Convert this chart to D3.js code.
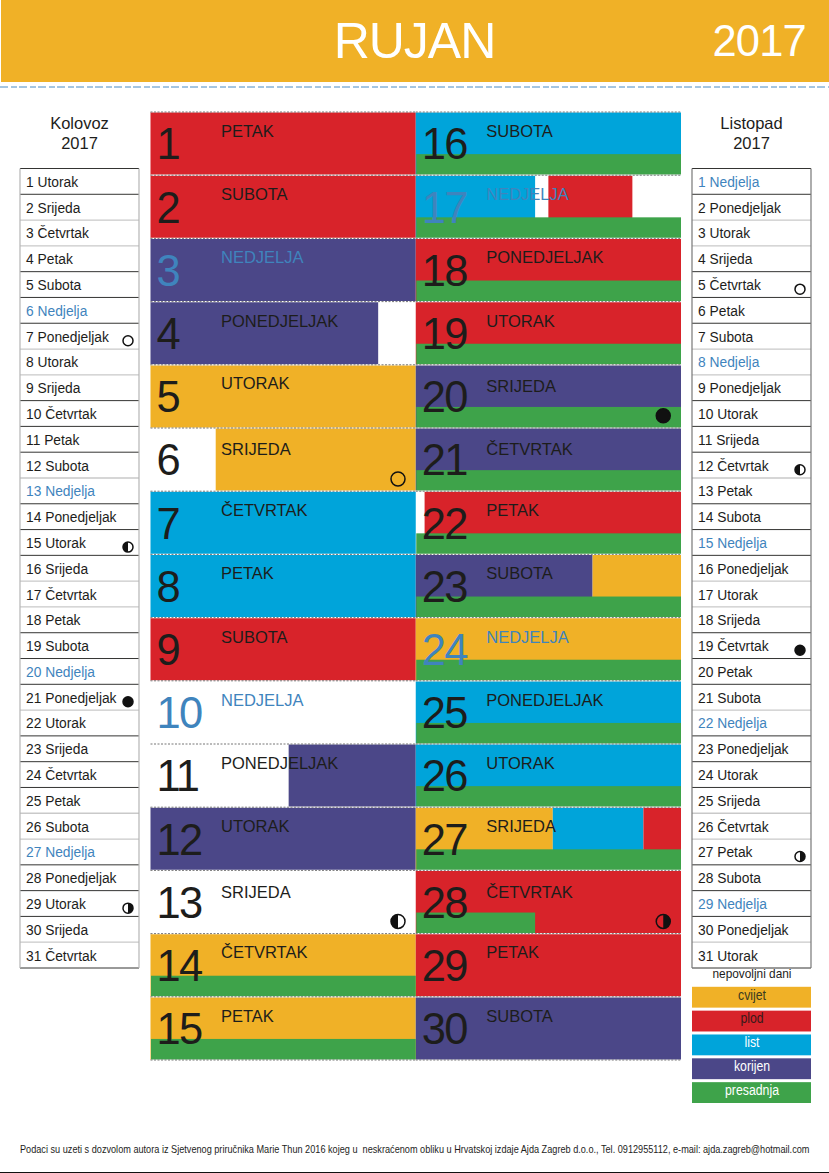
<!DOCTYPE html>
<html><head><meta charset="utf-8">
<script src="https://d3js.org/d3.v7.min.js"></script>
<style>html,body{margin:0;padding:0;background:#fff}svg{display:block}text{font-family:"Liberation Sans",Arial,sans-serif}</style>
</head><body><div id="c"></div>
<script>
const monthTitle = "RUJAN", yearTitle = "2017";
const dayNumbers = [1,2,3,4,5,6,7,8,9,10,11,12,13,14,15,16,17,18,19,20,21,22,23,24,25,26,27,28,29,30];
const dayNames = ["PETAK","SUBOTA","NEDJELJA","PONEDJELJAK","UTORAK","SRIJEDA","ČETVRTAK","PETAK","SUBOTA","NEDJELJA","PONEDJELJAK","UTORAK","SRIJEDA","ČETVRTAK","PETAK","SUBOTA","NEDJELJA","PONEDJELJAK","UTORAK","SRIJEDA","ČETVRTAK","PETAK","SUBOTA","NEDJELJA","PONEDJELJAK","UTORAK","SRIJEDA","ČETVRTAK","PETAK","SUBOTA"];
const segDay =   [1,2,3,4,5,6,7,8,9,11,12,14,15,16,17,17,18,19,20,21,22,23,23,24,25,26,27,27,27,28,29,30];
const segStart = [0,0,0,0,0,5.9,0,0,0,12.5,0,0,0,0,0,12,0,0,0,0,0.8,0,16,0,0,0,0,12.4,20.6,0,0,0];
const segEnd =   [24,24,24,20.6,24,24,24,24,24,24,24,24,24,24,10.8,19.6,24,24,24,24,24,16,24,24,24,24,12.4,20.6,24,24,24,24];
const segType =  ["plod","plod","korijen","korijen","cvijet","cvijet","list","list","plod","korijen","korijen","cvijet","cvijet","list","list","plod","plod","plod","korijen","korijen","plod","korijen","cvijet","cvijet","list","list","cvijet","list","plod","plod","plod","korijen"];
const bandDay =  [14,15,16,17,18,19,20,21,22,23,24,25,26,27,28];
const bandEnd =  [24,24,24,24,24,24,24,24,24,24,24,24,24,24,10.8];
const moonDay = [6,13,20,28];
const moonKind = ["new","half-l","full","half-r"];
const legendLabels = ["cvijet","plod","list","korijen","presadnja"];
const legendColors = ["#f0b127","#d8232a","#00a4da","#4b4788","#3ea34a"];
const legendText = ["#3a3a20","#3a1a1a","#ffffff","#ffffff","#ffffff"];
const augTitle = ["Kolovoz","2017"], octTitle = ["Listopad","2017"];
const augDays = ["1 Utorak","2 Srijeda","3 Četvrtak","4 Petak","5 Subota","6 Nedjelja","7 Ponedjeljak","8 Utorak","9 Srijeda","10 Četvrtak","11 Petak","12 Subota","13 Nedjelja","14 Ponedjeljak","15 Utorak","16 Srijeda","17 Četvrtak","18 Petak","19 Subota","20 Nedjelja","21 Ponedjeljak","22 Utorak","23 Srijeda","24 Četvrtak","25 Petak","26 Subota","27 Nedjelja","28 Ponedjeljak","29 Utorak","30 Srijeda","31 Četvrtak"];
const octDays = ["1 Nedjelja","2 Ponedjeljak","3 Utorak","4 Srijeda","5 Četvrtak","6 Petak","7 Subota","8 Nedjelja","9 Ponedjeljak","10 Utorak","11 Srijeda","12 Četvrtak","13 Petak","14 Subota","15 Nedjelja","16 Ponedjeljak","17 Utorak","18 Srijeda","19 Četvrtak","20 Petak","21 Subota","22 Nedjelja","23 Ponedjeljak","24 Utorak","25 Srijeda","26 Četvrtak","27 Petak","28 Subota","29 Nedjelja","30 Ponedjeljak","31 Utorak"];
const augMoonRow = [7,15,21,29], augMoonKind = ["new","half-l","full","half-r"];
const octMoonRow = [5,12,19,27], octMoonKind = ["new","half-l","full","half-r"];
const footerText = "Podaci su uzeti s dozvolom autora iz Sjetvenog priručnika Marie Thun 2016 kojeg u\u00a0\u00a0neskraćenom obliku u Hrvatskoj izdaje Ajda Zagreb d.o.o., Tel. 0912955112, e-mail: ajda.zagreb@hotmail.com";

const W=829,H=1173, INK="#1d1d1b", SUN="#3f84bd";
const svg=d3.select("#c").append("svg").attr("width",W).attr("height",H).attr("viewBox",`0 0 ${W} ${H}`);
const color=d3.scaleOrdinal(legendLabels,legendColors);

// header
svg.append("rect").attr("x",1).attr("y",0).attr("width",W-1).attr("height",82).attr("fill","#f0b127");
svg.append("text").attr("x",414.5).attr("y",58).attr("text-anchor","middle").attr("font-size",50).attr("letter-spacing",-1).attr("fill","#fff").text(monthTitle);
svg.append("text").attr("x",806).attr("y",56).attr("text-anchor","end").attr("font-size",43.5).attr("letter-spacing",-0.8).attr("fill","#fff").text(yearTitle);
svg.append("line").attr("x1",0).attr("x2",W).attr("y1",87).attr("y2",87).attr("stroke","#4a8cc4").attr("stroke-width",1).attr("stroke-dasharray","8 3 6 2");

// main grid
const rowY=d3.scaleBand().domain(d3.range(15)).range([112,1060]);
const colX=d3.scaleBand().domain([0,1]).range([150.5,681]);
const hour=d3.scaleLinear().domain([0,24]).range([0,colX.bandwidth()]);
const cellX=d=>colX(Math.floor((d-1)/15));
const cellY=d=>rowY((d-1)%15);
const g=svg.append("g");
g.selectAll("rect.seg").data(segDay.map((d,i)=>({d,s:segStart[i],e:segEnd[i],t:segType[i]}))).join("rect").attr("class","seg")
 .attr("x",d=>cellX(d.d)+hour(d.s)).attr("y",d=>cellY(d.d)).attr("width",d=>hour(d.e)-hour(d.s)).attr("height",rowY.bandwidth()).attr("fill",d=>color(d.t));
const bandH=rowY.bandwidth()/3;
g.selectAll("rect.band").data(bandDay.map((d,i)=>({d,e:bandEnd[i]}))).join("rect").attr("class","band")
 .attr("x",d=>cellX(d.d)+.5).attr("y",d=>cellY(d.d)+rowY.bandwidth()-bandH).attr("width",d=>hour(d.e)-.5).attr("height",bandH).attr("fill",legendColors[4]);
const seps=d3.range(16);
[0,1].forEach(c=>{
 g.selectAll(null).data(seps).join("line").attr("x1",colX(c)).attr("x2",colX(c)+colX.bandwidth()).attr("y1",d=>d<15?rowY(d):1060).attr("y2",d=>d<15?rowY(d):1060).attr("stroke","#fff").attr("stroke-width",1.2);
 g.selectAll(null).data(seps).join("line").attr("x1",colX(c)).attr("x2",colX(c)+colX.bandwidth()).attr("y1",d=>d<15?rowY(d):1060).attr("y2",d=>d<15?rowY(d):1060).attr("stroke","#777").attr("stroke-width",1).attr("stroke-dasharray","2 1.5");
});
const isSun=n=>n==="NEDJELJA";
g.selectAll("text.num").data(dayNumbers).join("text").attr("class","num")
 .attr("x",d=>cellX(d)+6).attr("y",d=>cellY(d)+47.3).attr("font-size",43.5).attr("letter-spacing",-1.8)
 .attr("fill",(d,i)=>isSun(dayNames[i])?SUN:INK).text(d=>d);
// small per-row baseline corrections seen in the reference
const nudge=new Map([[5,-1],[6,2],[13,3],[14,-1],[20,2],[21,2],[28,3],[29,-1]]);
g.selectAll("text.name").data(dayNumbers).join("text").attr("class","name")
 .attr("x",d=>cellX(d)+70.5).attr("y",d=>cellY(d)+25+(nudge.get(d)||0)).attr("font-size",16.5)
 .attr("fill",(d,i)=>isSun(dayNames[i])?SUN:INK).text((d,i)=>dayNames[i]);

function moon(sel,x,y,r,kind){
 const k=sel.append("g").attr("transform",`translate(${x},${y})`);
 k.append("circle").attr("r",r).attr("fill",kind==="full"?"#111":"none").attr("stroke","#111").attr("stroke-width",1.5);
 if(kind.startsWith("half")){
  const s=kind==="half-l"?0:1;
  k.append("path").attr("d",`M0,${-r}A${r},${r} 0 0 ${s} 0,${r}Z`).attr("fill","#111");
 }
}
moonDay.forEach((d,i)=>moon(svg,cellX(d)+247.5,cellY(d)+51,7,moonKind[i]));

// side tables: rule tone for the top of each row, then the closing rule (1 = black, 0 = light)
const ruleTones="1100111001110111001110111001110" + "1";
function side(x,title,days,mRow,mKind,edge){
 const w=119;
 const tx=x+w/2;
 svg.selectAll(null).data(title).join("text").attr("x",tx).attr("y",(d,i)=>129+i*20).attr("text-anchor","middle").attr("font-size",16.5).attr("fill",INK).text(d=>d);
 const y=d3.scaleBand().domain(d3.range(31)).range([168.5,968]);
 const s=svg.append("g");
 s.selectAll("line.h").data(d3.range(32)).join("line").attr("x1",x).attr("x2",x+w)
  .attr("y1",d=>d<31?y(d):968).attr("y2",d=>d<31?y(d):968)
  .attr("stroke",d=>ruleTones[d]==="1"?"#1d1d1b":"#c9c9c9").attr("stroke-width",d=>ruleTones[d]==="1"?.9:1.3);
 [x,x+w].forEach(px=>s.append("line").attr("x1",px).attr("x2",px).attr("y1",168.5).attr("y2",968).attr("stroke",edge).attr("stroke-width",1.2));
 s.selectAll("text").data(days).join("text").attr("x",x+6).attr("y",(d,i)=>y(i)+18.4).attr("font-size",13.8)
  .attr("fill",d=>d.includes("Nedjelja")?SUN:INK).text(d=>d);
 mRow.forEach((r,i)=>moon(s,x+108,y(r-1)+17.5,5,mKind[i]));
}
side(20,augTitle,augDays,augMoonRow,augMoonKind,"#b5b5b5");
side(692,octTitle,octDays,octMoonRow,octMoonKind,"#777");

// horizontally squeezed text (the reference uses a condensed face)
function squeeze(sel,x,y,factor){
 sel.attr("transform",function(){return `translate(${x},${y}) scale(${typeof factor==="function"?factor(this):factor},1)`;});
}
// legend
svg.append("text").attr("x",752).attr("y",978).attr("text-anchor","middle").attr("font-size",13).attr("textLength",79).attr("lengthAdjust","spacingAndGlyphs").attr("fill",INK).text("nepovoljni dani");
const legY=d3.scaleBand().domain(legendLabels).range([986.8,1106]);
const lg=svg.append("g");
lg.selectAll("rect").data(legendLabels).join("rect").attr("x",692).attr("width",119).attr("y",d=>legY(d)).attr("height",legY.bandwidth()-3).attr("fill",d=>color(d));
lg.selectAll("text").data(legendLabels).join("text").attr("text-anchor","middle").attr("font-size",15)
 .attr("fill",(d,i)=>legendText[i]).text(d=>d)
 .attr("transform",d=>`translate(752,${legY(d)+12.8}) scale(.82,1)`);

// footer
const foot=svg.append("text").attr("font-size",10.5).attr("fill",INK).text(footerText);
squeeze(foot,20,1153,el=>790/el.getComputedTextLength());
svg.append("line").attr("x1",0).attr("x2",W).attr("y1",1172.5).attr("y2",1172.5).attr("stroke","#111").attr("stroke-width",1);
</script></body></html>
